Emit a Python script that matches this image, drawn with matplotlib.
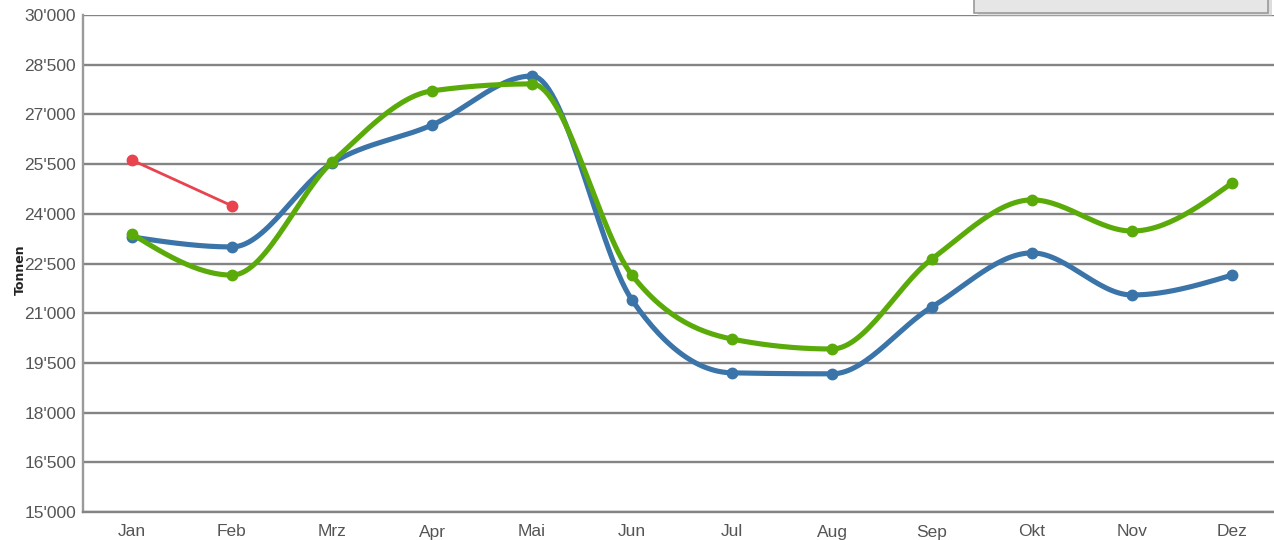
import numpy as np
import matplotlib
matplotlib.use("Agg")
import matplotlib.pyplot as plt
from matplotlib.patches import Rectangle
from matplotlib import font_manager

months = ["Jan", "Feb", "Mrz", "Apr", "Mai", "Jun", "Jul", "Aug", "Sep", "Okt", "Nov", "Dez"]
blue_vals = [23300, 23000, 25530, 26680, 28160, 21400, 19200, 19170, 21190, 22820, 21550, 22150]
green_vals = [23390, 22150, 25560, 27710, 27920, 22150, 20220, 19920, 22640, 24420, 23480, 24930]
red_vals = [25620, 24240]
yticks = [15000, 16500, 18000, 19500, 21000, 22500, 24000, 25500, 27000, 28500, 30000]
ytick_labels = ["15'000", "16'500", "18'000", "19'500", "21'000", "22'500",
                "24'000", "25'500", "27'000", "28'500", "30'000"]

names = {f.name for f in font_manager.fontManager.ttflist}
fam = "Liberation Sans Narrow" if "Liberation Sans Narrow" in names else "Liberation Sans"
plt.rcParams['font.family'] = [fam, 'DejaVu Sans']


def monotone_x(x, y, n=30):
    x = np.asarray(x, float); y = np.asarray(y, float)
    m = len(x)
    h = np.diff(x); s = np.diff(y) / h
    t = np.zeros(m)
    for i in range(1, m - 1):
        if s[i - 1] * s[i] <= 0:
            t[i] = 0
        else:
            p = (s[i - 1] * h[i] + s[i] * h[i - 1]) / (h[i - 1] + h[i])
            t[i] = (np.sign(s[i - 1]) + np.sign(s[i])) * min(abs(s[i - 1]), abs(s[i]), 0.5 * abs(p))
    t[0] = (3 * s[0] - t[1]) / 2 if m > 2 else s[0]
    t[-1] = (3 * s[-1] - t[-2]) / 2 if m > 2 else s[-1]
    xs, ys = [], []
    for i in range(m - 1):
        u = np.linspace(0, 1, n, endpoint=(i == m - 2))
        hh = h[i]
        h00 = 2 * u**3 - 3 * u**2 + 1
        h10 = u**3 - 2 * u**2 + u
        h01 = -2 * u**3 + 3 * u**2
        h11 = u**3 - u**2
        xs.append(x[i] + u * hh)
        ys.append(h00 * y[i] + h10 * hh * t[i] + h01 * y[i + 1] + h11 * hh * t[i + 1])
    return np.concatenate(xs), np.concatenate(ys)


fig = plt.figure(figsize=(12.74, 5.40), dpi=100)
ax = fig.add_axes([83 / 1274, 28 / 540, 1 - 83 / 1274, 497 / 540])

x = np.arange(len(months))
blue_c = "#3a74a8"
green_c = "#5aab0a"
red_c = "#e8434e"

ax.set_ylim(15000, 30000)
ax.set_xlim(-0.49, 11.42)

for yv in yticks:
    ax.axhline(yv, color="#848484", lw=1.7, zorder=1)

xb, yb = monotone_x(x, blue_vals)
ax.plot(xb, yb, color=blue_c, lw=3.7, zorder=3, solid_capstyle="round")
ax.plot(x, blue_vals, "o", color=blue_c, ms=7.5, zorder=4)

xg, yg = monotone_x(x, green_vals)
ax.plot(xg, yg, color=green_c, lw=3.7, zorder=5, solid_capstyle="round")
ax.plot(x, green_vals, "o", color=green_c, ms=7.5, zorder=6)

ax.plot(x[:2], red_vals, "-", color=red_c, lw=2.0, zorder=7)
ax.plot(x[:2], red_vals, "o", color=red_c, ms=7.5, zorder=8)

ax.set_yticks(yticks)
ax.set_yticklabels(ytick_labels)
ax.set_xticks(x)
ax.set_xticklabels(months)
ax.tick_params(axis="both", length=0, labelsize=12.5, colors="#555555")
ax.tick_params(axis="x", pad=9)
ax.tick_params(axis="y", pad=5)

for side in ["top", "right"]:
    ax.spines[side].set_visible(False)
ax.spines["left"].set_color("#9a9a9a")
ax.spines["left"].set_linewidth(1.7)
ax.spines["bottom"].set_color("#848484")
ax.spines["bottom"].set_linewidth(1.7)

fig.text(20 / 1274, 1 - 270 / 540, "Tonnen", rotation=90, fontsize=9, fontweight="bold",
         ha="center", va="center", color="#222222", family=["DejaVu Sans"])

# cut-off box at top right
fig.patches.append(Rectangle((978 / 1274, 1 - 16 / 540), 294 / 1274, 18 / 540,
                             transform=fig.transFigure, facecolor="#bbbbbb",
                             edgecolor="none", alpha=0.5, zorder=9))
fig.patches.append(Rectangle((974 / 1274, 1 - 13 / 540), 294 / 1274, 15 / 540,
                             transform=fig.transFigure, facecolor="#e6e6e6",
                             edgecolor="#9a9a9a", lw=1.2, zorder=10))

fig.savefig("out.png", dpi=100)
